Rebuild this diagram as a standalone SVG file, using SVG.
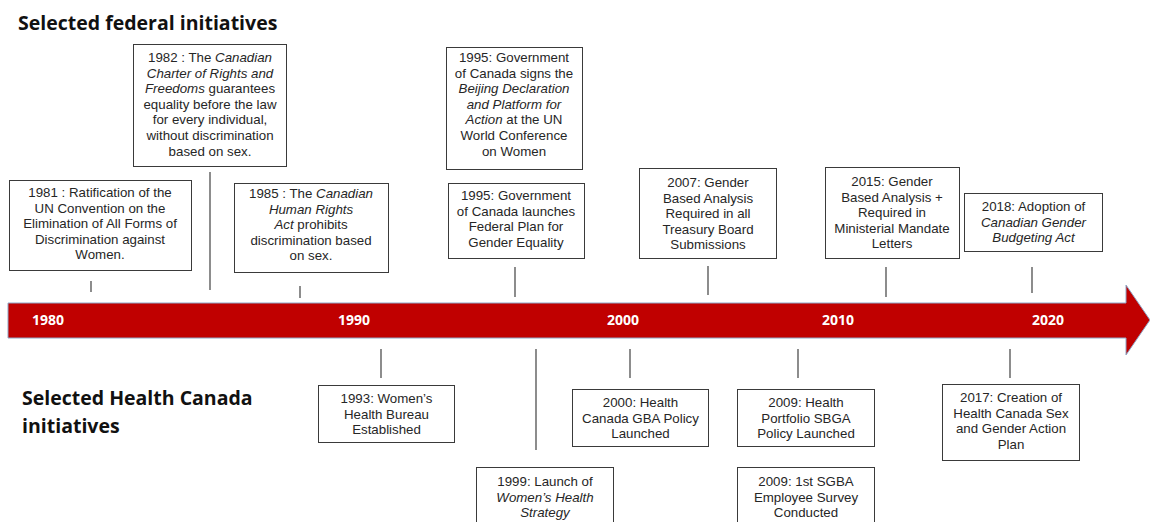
<svg xmlns="http://www.w3.org/2000/svg" width="1150" height="522" viewBox="0 0 1150 522">
<style>
.box{fill:#fff;stroke:#3a3a3a;stroke-width:1}
.t{font-family:"Liberation Sans",Arial,sans-serif;font-size:13.3px;fill:#262626;text-anchor:middle}
.i{font-style:italic}
.title{font-family:"Open Sans","Liberation Sans",sans-serif;font-weight:700;font-size:19.5px;fill:#111}
.yr{font-family:"Open Sans","Liberation Sans",sans-serif;font-weight:700;font-size:14px;fill:#fff;text-anchor:middle}
.c{stroke:#404040;stroke-width:1.2;fill:none}
</style>
<rect width="1150" height="522" fill="#fff"/>
<text class="title" x="18" y="30">Selected federal initiatives</text>
<text class="title" x="22" y="405">Selected Health Canada</text>
<text class="title" x="22" y="433">initiatives</text>

<g id="timeline">
<polygon points="8,303 1126,303 1126,285 1150,320 1126,355 1126,338 8,338" fill="#C00000" stroke="#8EA6C6" stroke-width="1"/>
<text class="yr" x="48" y="325">1980</text>
<text class="yr" x="354" y="325">1990</text>
<text class="yr" x="623" y="325">2000</text>
<text class="yr" x="838" y="325">2010</text>
<text class="yr" x="1048" y="325">2020</text>
</g>

<g id="connectors">
<line class="c" x1="91" y1="281" x2="91" y2="292"/>
<line class="c" x1="210" y1="172" x2="210" y2="290"/>
<line class="c" x1="300" y1="286" x2="300" y2="298"/>
<line class="c" x1="515" y1="267" x2="515" y2="297"/>
<line class="c" x1="708" y1="266" x2="708" y2="295"/>
<line class="c" x1="886" y1="267" x2="886" y2="297"/>
<line class="c" x1="1032" y1="267" x2="1032" y2="293"/>
<line class="c" x1="381" y1="349" x2="381" y2="378"/>
<line class="c" x1="536" y1="349" x2="536" y2="450"/>
<line class="c" x1="630" y1="349" x2="630" y2="378"/>
<line class="c" x1="798" y1="349" x2="798" y2="378"/>
<line class="c" x1="1010" y1="349" x2="1010" y2="378"/>
</g>

<g id="n1981">
<rect class="box" x="9.5" y="180.5" width="182" height="90"/>
<text class="t"><tspan x="100" y="197">1981 : Ratification of the</tspan><tspan x="100" y="212.6">UN Convention on the</tspan><tspan x="100" y="228.2">Elimination of All Forms of</tspan><tspan x="100" y="243.8">Discrimination against</tspan><tspan x="100" y="259.4">Women.</tspan></text>
</g>

<g id="n1982">
<rect class="box" x="133.5" y="44.5" width="153" height="122"/>
<text class="t"><tspan x="210" y="62">1982 : The <tspan class="i">Canadian</tspan></tspan><tspan x="210" y="77.6" class="i">Charter of Rights and</tspan><tspan x="210" y="93.2"><tspan class="i">Freedoms</tspan> guarantees</tspan><tspan x="210" y="108.8">equality before the law</tspan><tspan x="210" y="124.4">for every individual,</tspan><tspan x="210" y="140">without discrimination</tspan><tspan x="210" y="155.6">based on sex.</tspan></text>
</g>

<g id="n1985">
<rect class="box" x="234.5" y="183.5" width="154" height="89"/>
<text class="t"><tspan x="311" y="198">1985 : The <tspan class="i">Canadian</tspan></tspan><tspan x="311" y="213.6" class="i">Human Rights</tspan><tspan x="311" y="229.2"><tspan class="i">Act</tspan> prohibits</tspan><tspan x="311" y="244.8">discrimination based</tspan><tspan x="311" y="260.4">on sex.</tspan></text>
</g>

<g id="n1995a">
<rect class="box" x="446.5" y="47.5" width="136" height="122"/>
<text class="t"><tspan x="514" y="62">1995: Government</tspan><tspan x="514" y="77.6">of Canada signs the</tspan><tspan x="514" y="93.2" class="i">Beijing Declaration</tspan><tspan x="514" y="108.8" class="i">and Platform for</tspan><tspan x="514" y="124.4"><tspan class="i">Action</tspan> at the UN</tspan><tspan x="514" y="140">World Conference</tspan><tspan x="514" y="155.6">on Women</tspan></text>
</g>

<g id="n1995b">
<rect class="box" x="448.5" y="183.5" width="136" height="75"/>
<text class="t"><tspan x="516" y="200">1995: Government</tspan><tspan x="516" y="215.6">of Canada launches</tspan><tspan x="516" y="231.2">Federal Plan for</tspan><tspan x="516" y="246.8">Gender Equality</tspan></text>
</g>

<g id="n2007">
<rect class="box" x="639.5" y="168.5" width="137" height="90"/>
<text class="t"><tspan x="708" y="187">2007: Gender</tspan><tspan x="708" y="202.6">Based Analysis</tspan><tspan x="708" y="218.2">Required in all</tspan><tspan x="708" y="233.8">Treasury Board</tspan><tspan x="708" y="249.4">Submissions</tspan></text>
</g>

<g id="n2015">
<rect class="box" x="825.5" y="167.5" width="134" height="91"/>
<text class="t"><tspan x="892" y="186">2015: Gender</tspan><tspan x="892" y="201.6">Based Analysis +</tspan><tspan x="892" y="217.2">Required in</tspan><tspan x="892" y="232.8">Ministerial Mandate</tspan><tspan x="892" y="248.4">Letters</tspan></text>
</g>

<g id="n2018">
<rect class="box" x="964.5" y="193.5" width="138" height="58"/>
<text class="t"><tspan x="1033.5" y="211">2018: Adoption of</tspan><tspan x="1033.5" y="226.6" class="i">Canadian Gender</tspan><tspan x="1033.5" y="242.2" class="i">Budgeting Act</tspan></text>
</g>

<g id="n1993">
<rect class="box" x="318.5" y="385.5" width="136" height="57"/>
<text class="t"><tspan x="386.5" y="403">1993: Women’s</tspan><tspan x="386.5" y="418.6">Health Bureau</tspan><tspan x="386.5" y="434.2">Established</tspan></text>
</g>

<g id="n1999">
<rect class="box" x="476.5" y="467.5" width="137" height="70"/>
<text class="t"><tspan x="545" y="486">1999: Launch of</tspan><tspan x="545" y="501.6" class="i">Women’s Health</tspan><tspan x="545" y="517.2" class="i">Strategy</tspan></text>
</g>

<g id="n2000">
<rect class="box" x="572.5" y="389.5" width="136" height="57"/>
<text class="t"><tspan x="640.5" y="407">2000: Health</tspan><tspan x="640.5" y="422.6">Canada GBA Policy</tspan><tspan x="640.5" y="438.2">Launched</tspan></text>
</g>

<g id="n2009a">
<rect class="box" x="737.5" y="389.5" width="137" height="57"/>
<text class="t"><tspan x="806" y="407">2009: Health</tspan><tspan x="806" y="422.6">Portfolio SBGA</tspan><tspan x="806" y="438.2">Policy Launched</tspan></text>
</g>

<g id="n2009b">
<rect class="box" x="737.5" y="467.5" width="137" height="70"/>
<text class="t"><tspan x="806" y="486">2009: 1st SGBA</tspan><tspan x="806" y="501.6">Employee Survey</tspan><tspan x="806" y="517.2">Conducted</tspan></text>
</g>

<g id="n2017">
<rect class="box" x="942.5" y="384.5" width="137" height="76"/>
<text class="t"><tspan x="1011" y="402">2017: Creation of</tspan><tspan x="1011" y="417.6">Health Canada Sex</tspan><tspan x="1011" y="433.2">and Gender Action</tspan><tspan x="1011" y="448.8">Plan</tspan></text>
</g>
</svg>
